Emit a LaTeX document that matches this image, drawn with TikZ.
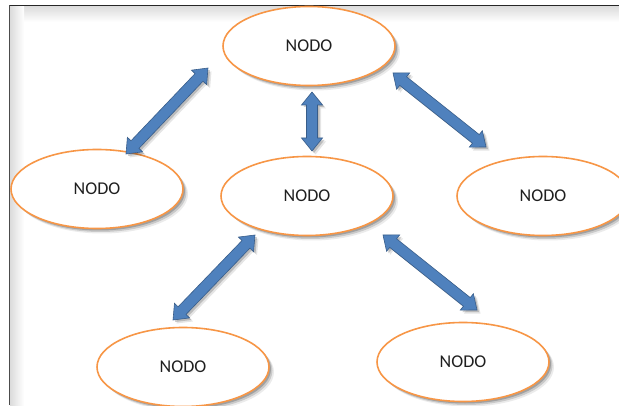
\documentclass[tikz,border=0pt]{standalone}
\usepackage{fontspec}
\setmainfont{Carlito}
\usetikzlibrary{shapes.geometric,shadows,calc}

\definecolor{nodeorange}{HTML}{F79646}
\definecolor{arrowblue}{HTML}{4F81BD}
\definecolor{arrowedge}{HTML}{385D8A}
\definecolor{textdark}{HTML}{1F1F1F}

\tikzset{
  nodo/.style={ellipse, draw=nodeorange, line width=1.6pt, fill=white,
    minimum width=172pt, minimum height=79pt, inner sep=0pt,
    font=\fontsize{18}{20}\selectfont, text=textdark,
    general shadow={shadow xshift=5pt, shadow yshift=-5pt, fill=black, opacity=0.08},
    general shadow={shadow xshift=3.5pt, shadow yshift=-3.5pt, fill=black, opacity=0.14},
    general shadow={shadow xshift=2pt, shadow yshift=-2pt, fill=black, opacity=0.20}},
  arrowbody/.style={fill=arrowblue, draw=arrowedge, line width=0.6pt, line join=miter,
    general shadow={shadow xshift=3.5pt, shadow yshift=-3.5pt, fill=black, opacity=0.10},
    general shadow={shadow xshift=2pt, shadow yshift=-2pt, fill=black, opacity=0.18}}
}

% double-headed block arrow between two named points
\newcommand{\blockarr}[2]{%
  \draw[arrowbody] (#1)
    -- ($($(#1)!13pt!(#2)$)!10.5pt!90:(#2)$)
    -- ($($(#1)!13pt!(#2)$)!5.5pt!90:(#2)$)
    -- ($($(#2)!13pt!(#1)$)!5.5pt!-90:(#1)$)
    -- ($($(#2)!13pt!(#1)$)!10.5pt!-90:(#1)$)
    -- (#2)
    -- ($($(#2)!13pt!(#1)$)!10.5pt!90:(#1)$)
    -- ($($(#2)!13pt!(#1)$)!5.5pt!90:(#1)$)
    -- ($($(#1)!13pt!(#2)$)!5.5pt!-90:(#2)$)
    -- ($($(#1)!13pt!(#2)$)!10.5pt!-90:(#2)$)
    -- cycle;}

\begin{document}
\begin{tikzpicture}[x=1pt,y=1pt]
  \useasboundingbox (0,0) rectangle (619,405);
  \fill[white] (0,0) rectangle (619,405);

  % page frame with soft inner edge
  \shade[top color=black!14, bottom color=white] (10,399) rectangle (619,383);
  \shade[left color=black!14, right color=white] (10,0) rectangle (24,399);
  \draw[black!70, line width=1.8pt] (9.5,0) -- (9.5,399.5);
  \draw[black!85, line width=1.4pt] (9.5,399.5) -- (619,399.5);

  % nodes
  \node[nodo] (top)   at (309,359) {NODO};
  \node[nodo] (left)  at (97,216)  {NODO};
  \node[nodo] (mid)   at (307,209) {NODO};
  \node[nodo] (right) at (543,209) {NODO};
  \node[nodo] (bl)    at (183,38)  {NODO};
  \node[nodo] (br)    at (463,43)  {NODO};

  % arrow end points
  \coordinate (a1s) at (126,251); \coordinate (a1e) at (208,337);
  \coordinate (a2s) at (312,313); \coordinate (a2e) at (312,254);
  \coordinate (a3s) at (393,332); \coordinate (a3e) at (486,258);
  \coordinate (a4s) at (255,170); \coordinate (a4e) at (173,85);
  \coordinate (a5s) at (383,170); \coordinate (a5e) at (477,95);

  \blockarr{a1s}{a1e}
  \blockarr{a2s}{a2e}
  \blockarr{a3s}{a3e}
  \blockarr{a4s}{a4e}
  \blockarr{a5s}{a5e}
\end{tikzpicture}
\end{document}
